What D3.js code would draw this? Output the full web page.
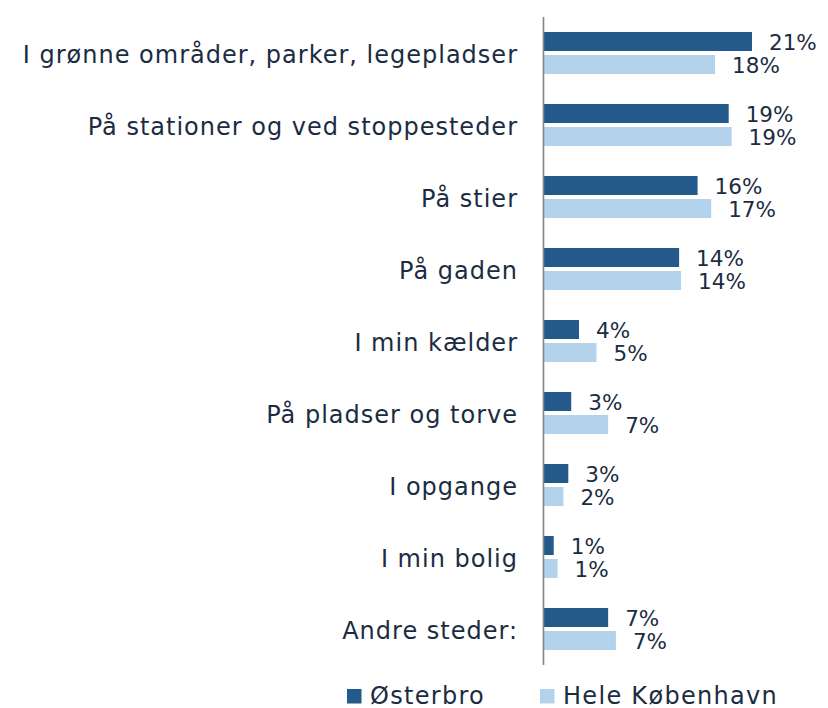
<!DOCTYPE html>
<html>
<head>
<meta charset="utf-8">
<script src="https://cdn.jsdelivr.net/npm/d3@7"></script>
<style>
  html, body { margin: 0; padding: 0; background: #ffffff; }
  svg { display: block; }
  text { font-family: "DejaVu Sans", sans-serif; fill: #1b2c42; }
</style>
</head>
<body>
<div id="chart"></div>
<script>
// Where incidents happened: share of answers, Østerbro vs. all of Copenhagen
const categories = [
  "I grønne områder, parker, legepladser",
  "På stationer og ved stoppesteder",
  "På stier",
  "På gaden",
  "I min kælder",
  "På pladser og torve",
  "I opgange",
  "I min bolig",
  "Andre steder:"
];
const seriesNames = ["Østerbro", "Hele København"];
const osterbro = [21.4, 19.0, 15.8, 13.9, 3.6, 2.8, 2.5, 1.0, 6.6];
const heleKbh  = [17.6, 19.3, 17.2, 14.1, 5.4, 6.6, 2.0, 1.4, 7.4];
const seriesColors = ["#235a8b", "#b3d3ec"];

const width = 828, height = 708;
const svg = d3.select("#chart").append("svg")
  .attr("width", width).attr("height", height);

const x = d3.scaleLinear().domain([0, 25]).range([544, 787]);
const y = d3.scaleBand().domain(categories).range([17, 665]).paddingInner(0).paddingOuter(0);

const barH = 19, gap = 4;
const fmt = d3.format(".0f");

const rows = categories.map((c, i) => ({ cat: c, vals: [osterbro[i], heleKbh[i]] }));

const g = svg.append("g");
const groups = g.selectAll("g.row").data(rows).join("g").attr("class", "row");

groups.each(function(d) {
  const sel = d3.select(this);
  const cy = y(d.cat) + y.bandwidth() / 2;
  d.vals.forEach((v, k) => {
    const top = k === 0 ? cy - gap / 2 - barH : cy + gap / 2;
    sel.append("rect")
      .attr("x", x(0))
      .attr("y", top)
      .attr("width", x(v) - x(0))
      .attr("height", barH)
      .attr("fill", seriesColors[k]);
    sel.append("text")
      .attr("x", x(v) + 17)
      .attr("y", top + barH / 2 + 1)
      .attr("dominant-baseline", "central")
      .attr("font-size", 21.5)
      .text(fmt(v) + "%");
  });
  sel.append("text")
    .attr("x", 518)
    .attr("y", cy + 9.5)
    .attr("text-anchor", "end")
    .attr("font-size", 24)
    .attr("letter-spacing", 1)
    .text(d.cat);
});

// vertical category axis line
svg.append("line")
  .attr("x1", 543.5).attr("x2", 543.5)
  .attr("y1", y.range()[0]).attr("y2", y.range()[1])
  .attr("stroke", "#7d858f").attr("stroke-width", 1.6);

// legend
const legendX = [347, 540];
const legend = svg.selectAll("g.legend").data(seriesNames).join("g")
  .attr("class", "legend")
  .attr("transform", (d, i) => `translate(${legendX[i]},689)`);
legend.append("rect").attr("width", 14.5).attr("height", 14.5)
  .attr("fill", (d, i) => seriesColors[i]);
legend.append("text").attr("x", 23).attr("y", 14.5)
  .attr("font-size", 24).attr("letter-spacing", 1.3).text(d => d);
</script>
</body>
</html>
